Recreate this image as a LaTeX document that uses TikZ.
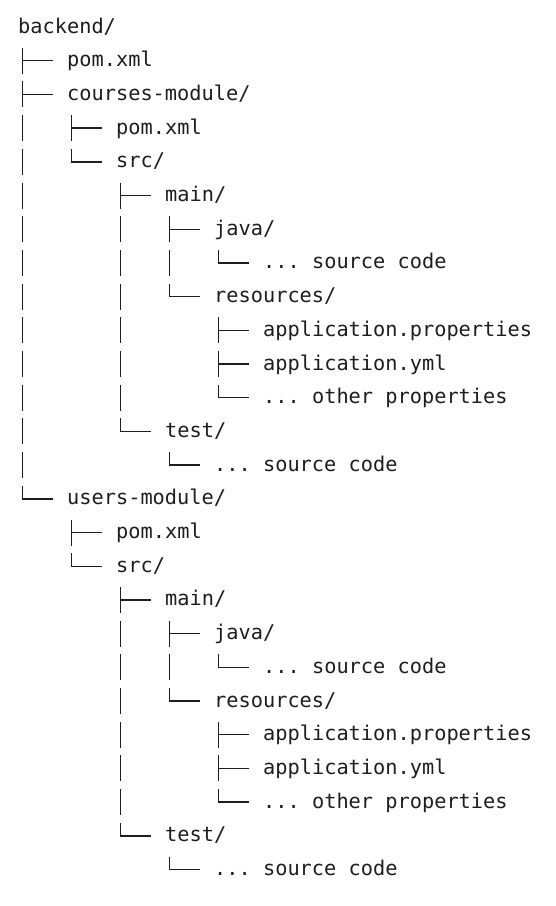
\documentclass[tikz,border=0pt]{standalone}
\usepackage{fontspec}
\setmonofont{DejaVu Sans Mono}
\definecolor{ink}{HTML}{1E1E1E}
\tikzset{
  item/.style={anchor=base west, inner sep=0pt, text height=15pt, text depth=3pt,
    font=\ttfamily\fontsize{20.3}{24}\selectfont, text=ink},
  treeline/.style={draw=ink, line width=1.4pt},
  vbar/.style={dash pattern=on 26pt off 7.7pt},
}
\newcommand\branch[1]{\draw[treeline] ([xshift=-14pt]#1.west) -- ([xshift=-44.5pt]#1.west);}
\newcommand\trunk[2]{\draw[treeline,vbar] ([xshift=4.5pt,yshift=-20.7pt]#1.west) -- ([xshift=4.5pt,yshift=-0.7pt]#1.west |- #2.west);}
\begin{document}
\begin{tikzpicture}[x=1pt,y=-1pt]
\fill[white] (0,0) rectangle (555,906);
\useasboundingbox (0,0) rectangle (555,906);
\def\rowy#1{33+33.7*#1}
\node[item] (backend) at (18,{\rowy{0}}) {backend/};
\node[item] (pom1)    at (67,{\rowy{1}}) {pom.xml};
\node[item] (courses) at (67,{\rowy{2}}) {courses-module/};
\node[item] (cpom)    at (116,{\rowy{3}}) {pom.xml};
\node[item] (csrc)    at (116,{\rowy{4}}) {src/};
\node[item] (cmain)   at (165,{\rowy{5}}) {main/};
\node[item] (cjava)   at (214,{\rowy{6}}) {java/};
\node[item] (cjsrc)   at (263,{\rowy{7}}) {... source code};
\node[item] (cres)    at (214,{\rowy{8}}) {resources/};
\node[item] (cap)     at (263,{\rowy{9}}) {application.properties};
\node[item] (cay)     at (263,{\rowy{10}}) {application.yml};
\node[item] (cother)  at (263,{\rowy{11}}) {... other properties};
\node[item] (ctest)   at (165,{\rowy{12}}) {test/};
\node[item] (ctsrc)   at (214,{\rowy{13}}) {... source code};
\node[item] (users)   at (67,{\rowy{14}}) {users-module/};
\node[item] (upom)    at (116,{\rowy{15}}) {pom.xml};
\node[item] (usrc)    at (116,{\rowy{16}}) {src/};
\node[item] (umain)   at (165,{\rowy{17}}) {main/};
\node[item] (ujava)   at (214,{\rowy{18}}) {java/};
\node[item] (ujsrc)   at (263,{\rowy{19}}) {... source code};
\node[item] (ures)    at (214,{\rowy{20}}) {resources/};
\node[item] (uap)     at (263,{\rowy{21}}) {application.properties};
\node[item] (uay)     at (263,{\rowy{22}}) {application.yml};
\node[item] (uother)  at (263,{\rowy{23}}) {... other properties};
\node[item] (utest)   at (165,{\rowy{24}}) {test/};
\node[item] (utsrc)   at (214,{\rowy{25}}) {... source code};
% trunks
\trunk{backend}{users}
\trunk{courses}{csrc}
\trunk{csrc}{ctest}
\trunk{cmain}{cres}
\trunk{cjava}{cjsrc}
\trunk{cres}{cother}
\trunk{ctest}{ctsrc}
\trunk{users}{usrc}
\trunk{usrc}{utest}
\trunk{umain}{ures}
\trunk{ujava}{ujsrc}
\trunk{ures}{uother}
\trunk{utest}{utsrc}
% branches
\foreach \n in {pom1,courses,cpom,csrc,cmain,cjava,cjsrc,cres,cap,cay,cother,ctest,ctsrc,users,upom,usrc,umain,ujava,ujsrc,ures,uap,uay,uother,utest,utsrc}{\branch{\n}}
\end{tikzpicture}
\end{document}
